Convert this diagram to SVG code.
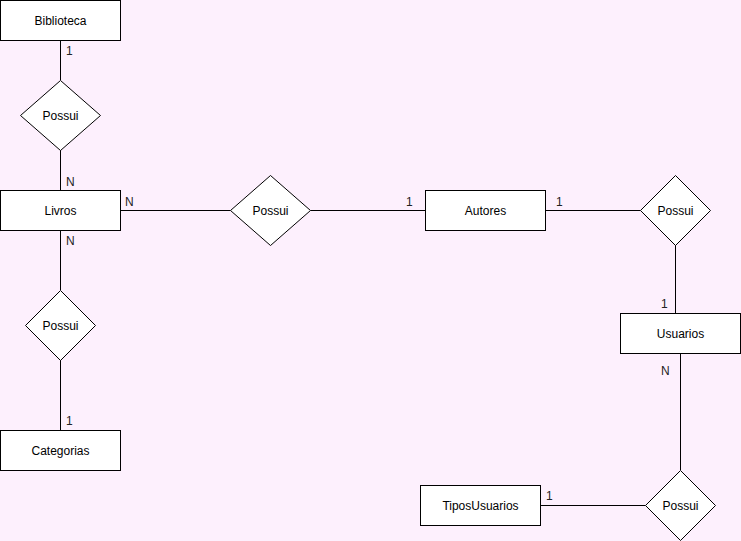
<svg xmlns="http://www.w3.org/2000/svg" width="741" height="541" viewBox="0 0 741 541">
<style>
.ent rect{fill:#fff;stroke:#000;stroke-width:1}
.rel polygon{fill:#fff;stroke:#000;stroke-width:1}
text{font-family:"Liberation Sans",Arial,sans-serif;font-size:12px;fill:#000}
.nt{text-anchor:middle;dominant-baseline:central}
.card{font-size:12px;fill:#222}
#connectors line{stroke:#000;stroke-width:1}
</style>
<rect width="741" height="541" fill="#fdf0fd"/>
<g id="connectors">
<line x1="60.5" y1="40" x2="60.5" y2="80"/>
<line x1="60.5" y1="150" x2="60.5" y2="190"/>
<line x1="60.5" y1="230" x2="60.5" y2="290"/>
<line x1="60.5" y1="360" x2="60.5" y2="430"/>
<line x1="120" y1="210.5" x2="230.5" y2="210.5"/>
<line x1="310.5" y1="210.5" x2="425" y2="210.5"/>
<line x1="545" y1="210.5" x2="640.5" y2="210.5"/>
<line x1="675.5" y1="245" x2="675.5" y2="313"/>
<line x1="680.5" y1="353" x2="680.5" y2="470"/>
<line x1="540" y1="505.5" x2="645.5" y2="505.5"/>
</g>
<g id="cards">
<text class="card" x="66" y="55">1</text>
<text class="card" x="66" y="186">N</text>
<text class="card" x="66" y="245">N</text>
<text class="card" x="66" y="425">1</text>
<text class="card" x="125" y="206">N</text>
<text class="card" x="406" y="206">1</text>
<text class="card" x="556" y="206">1</text>
<text class="card" x="661" y="308">1</text>
<text class="card" x="661" y="375">N</text>
<text class="card" x="546" y="500">1</text>
</g>
<g id="biblioteca" class="ent"><rect x="0.5" y="0.5" width="120" height="40"/><text class="nt" x="60.5" y="20.5">Biblioteca</text></g>
<g id="livros" class="ent"><rect x="0.5" y="190.5" width="120" height="40"/><text class="nt" x="60.5" y="210.5">Livros</text></g>
<g id="categorias" class="ent"><rect x="0.5" y="430.5" width="120" height="40"/><text class="nt" x="60.5" y="450.5">Categorias</text></g>
<g id="autores" class="ent"><rect x="425.5" y="190.5" width="120" height="40"/><text class="nt" x="485.5" y="210.5">Autores</text></g>
<g id="usuarios" class="ent"><rect x="620.5" y="313.5" width="120" height="40"/><text class="nt" x="680.5" y="333.5">Usuarios</text></g>
<g id="tiposusuarios" class="ent"><rect x="420.5" y="485.5" width="120" height="40"/><text class="nt" x="480.5" y="505.5">TiposUsuarios</text></g>
<g id="possui1" class="rel"><polygon points="60.5,80.5 100.5,115.5 60.5,150.5 20.5,115.5"/><text class="nt" x="60.5" y="115.5">Possui</text></g>
<g id="possui2" class="rel"><polygon points="60.5,290.5 95.5,325.5 60.5,360.5 25.5,325.5"/><text class="nt" x="60.5" y="325.5">Possui</text></g>
<g id="possui3" class="rel"><polygon points="270.5,175.5 310.5,210.5 270.5,245.5 230.5,210.5"/><text class="nt" x="270.5" y="210.5">Possui</text></g>
<g id="possui4" class="rel"><polygon points="675.5,175.5 710.5,210.5 675.5,245.5 640.5,210.5"/><text class="nt" x="675.5" y="210.5">Possui</text></g>
<g id="possui5" class="rel"><polygon points="680.5,470.5 715.5,505.5 680.5,540.5 645.5,505.5"/><text class="nt" x="680.5" y="505.5">Possui</text></g>
</svg>
